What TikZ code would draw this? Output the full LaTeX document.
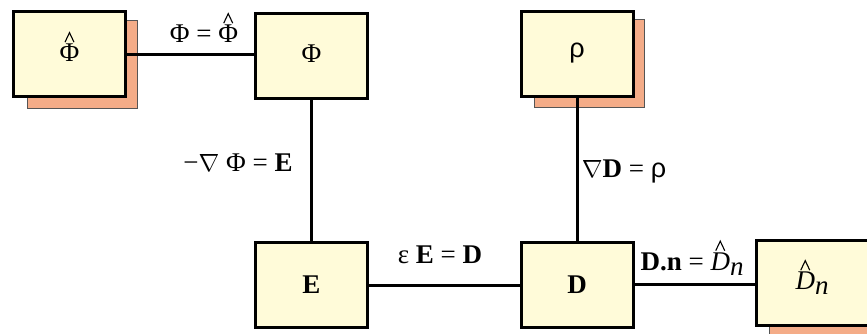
\documentclass[tikz,border=0pt]{standalone}
\usepackage{fontspec}
\setmainfont{Liberation Serif}
\newfontfamily\sansrho{Liberation Sans}
\usetikzlibrary{backgrounds}
\definecolor{boxfill}{HTML}{FFFBD9}
\definecolor{shadowfill}{HTML}{F4AC88}
\definecolor{shadowline}{HTML}{555555}
\newcommand\caretmark{\tikz[baseline=0pt,x=1pt,y=1pt]\draw[draw=black,fill=none,line width=1.1pt,line join=miter] (0,0)--(4.5,9.5)--(9,0);}
\newsavebox\hatbase
\newcommand\withhat[1]{\leavevmode\sbox\hatbase{#1}\rlap{\makebox[\wd\hatbase]{\raisebox{\dimexpr\ht\hatbase+2pt\relax}{\smash{\caretmark}}}}\usebox\hatbase}
\newcommand\myrho{{\sansrho ρ}}
\tikzset{
  databox/.style={draw=black, line width=3pt, fill=boxfill, minimum width=112pt, minimum height=85pt, inner sep=0pt, font=\fontsize{27}{30}\selectfont},
  shadowbox/.style={fill=shadowfill, draw=shadowline, line width=0.8pt},
  link/.style={line width=3pt},
  eqlabel/.style={inner sep=0pt, font=\fontsize{27}{30}\selectfont}
}
\begin{document}
\begin{tikzpicture}[x=1pt,y=-1pt]
\useasboundingbox (0,0) rectangle (867,333);
\node[databox] (phihat) at (69.5,54) {\raisebox{4pt}{\withhat{Φ}}};
\node[databox] (phi) at (311.5,55.5) {\raisebox{4pt}{Φ}};
\node[databox] (rho) at (577,53.5) {\myrho};
\node[databox] (E) at (311.5,285) {\textbf{E}};
\node[databox] (D) at (577,284.5) {\textbf{D}};
\node[databox] (Dn) at (812,282.5) {\withhat{\textit{D}}\raisebox{-5pt}{\textit{n}}};
\begin{scope}[on background layer]
\draw[shadowbox] ([xshift=15pt,yshift=-10pt]phihat.south west) rectangle ([xshift=10pt,yshift=-10pt]phihat.north east);
\draw[shadowbox] ([xshift=15pt,yshift=-10pt]rho.south west) rectangle ([xshift=10pt,yshift=-10pt]rho.north east);
\draw[shadowbox] ([xshift=15pt,yshift=-10pt]Dn.south west) rectangle ([xshift=10pt,yshift=-10pt]Dn.north east);
\end{scope}
\draw[link] (phihat.east) -- (phi.west |- phihat.east);
\draw[link] (phi.south) -- (E.north);
\draw[link] (rho.south) -- (D.north);
\draw[link] (E.east) -- (D.west |- E.east);
\draw[link] (D.east) -- (Dn.west |- D.east);
\node[eqlabel] (l1) at (204,33) {Φ = \withhat{Φ}};
\node[eqlabel] (l2) at (238,163) {−$\nabla$ Φ = \textbf{E}};
\node[eqlabel] (l3) at (624,171) {$\nabla$\textbf{D} = \myrho};
\node[eqlabel] (l4) at (440,255) {ε \textbf{E} = \textbf{D}};
\node[eqlabel] (l5) at (692,263) {\textbf{D.n} = \withhat{\textit{D}}\raisebox{-5pt}{\textit{n}}};
\end{tikzpicture}
\end{document}
